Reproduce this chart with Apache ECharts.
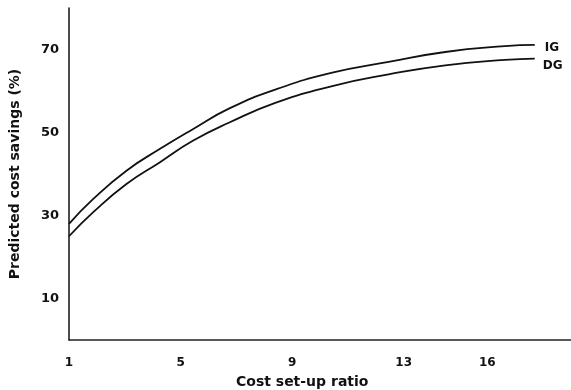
<!DOCTYPE html>
<html>
<head>
<meta charset="utf-8">
<script src="https://cdn.jsdelivr.net/npm/echarts@6/dist/echarts.min.js"></script>
<style>
html,body{margin:0;padding:0;background:#fff;}
#chart{width:571px;height:390px;}
</style>
</head>
<body>
<div id="chart"></div>
<script>
var xTickLabels = [1, 5, 9, 13, 16];
var yTickLabels = [10, 30, 50, 70];
var ratioX = [1, 1.87, 3.06, 4.25, 5.44, 6.75, 8.42, 10.44, 12.46, 14.49, 16.63, 17.7];
var igValues = [28.0, 34.0, 40.8, 46.0, 50.8, 55.8, 60.4, 64.4, 67.0, 69.4, 70.8, 71.1];
var dgValues = [25.0, 30.8, 37.6, 42.8, 48.0, 52.4, 57.2, 61.2, 64.0, 66.2, 67.5, 67.8];
var seriesNames = ['IG', 'DG'];

function pairs(xs, ys) { return xs.map(function (x, i) { return [x, ys[i]]; }); }

var fontFam = '"DejaVu Sans", Arial, sans-serif';
var chart = echarts.init(document.getElementById('chart'), null, {renderer: 'canvas'});
chart.setOption({
  animation: false,
  backgroundColor: '#ffffff',
  grid: {left: 69, right: 0, top: 8, bottom: 50, containLabel: false, outerBoundsMode: 'none'},
  xAxis: {
    type: 'value', min: 1, max: 19,
    axisLine: {show: true, lineStyle: {color: '#222', width: 1.5}},
    axisTick: {show: false},
    splitLine: {show: false},
    axisLabel: {
      customValues: xTickLabels, margin: 17,
      color: '#111', fontFamily: fontFam, fontWeight: 'bold', fontSize: 12
    }
  },
  yAxis: {
    type: 'value', min: 0, max: 80,
    axisLine: {show: true, lineStyle: {color: '#111', width: 1.5}},
    axisTick: {show: false},
    splitLine: {show: false},
    axisLabel: {
      customValues: yTickLabels, margin: 10,
      color: '#111', fontFamily: fontFam, fontWeight: 'bold', fontSize: 13
    },
    name: 'Predicted cost savings (%)',
    nameLocation: 'middle', nameGap: 47, nameRotate: 90,
    nameTextStyle: {color: '#111', fontFamily: fontFam, fontWeight: 'bold', fontSize: 14}
  },
  graphic: [{
    type: 'text', left: 236, top: 375,
    style: {text: 'Cost set-up ratio', fill: '#111', font: 'bold 14px "DejaVu Sans", Arial, sans-serif'}
  }],
  series: [{
    name: seriesNames[0], type: 'line', data: pairs(ratioX, igValues),
    smooth: 0.5, showSymbol: false,
    lineStyle: {color: '#111', width: 1.8},
    endLabel: {show: true, formatter: '{a}', offset: [2, 3], color: '#111',
      fontFamily: fontFam, fontWeight: 'bold', fontSize: 12}
  }, {
    name: seriesNames[1], type: 'line', data: pairs(ratioX, dgValues),
    smooth: 0.5, showSymbol: false,
    lineStyle: {color: '#111', width: 1.8},
    endLabel: {show: true, formatter: '{a}', offset: [0, 7], color: '#111',
      fontFamily: fontFam, fontWeight: 'bold', fontSize: 12}
  }]
});
</script>
</body>
</html>
